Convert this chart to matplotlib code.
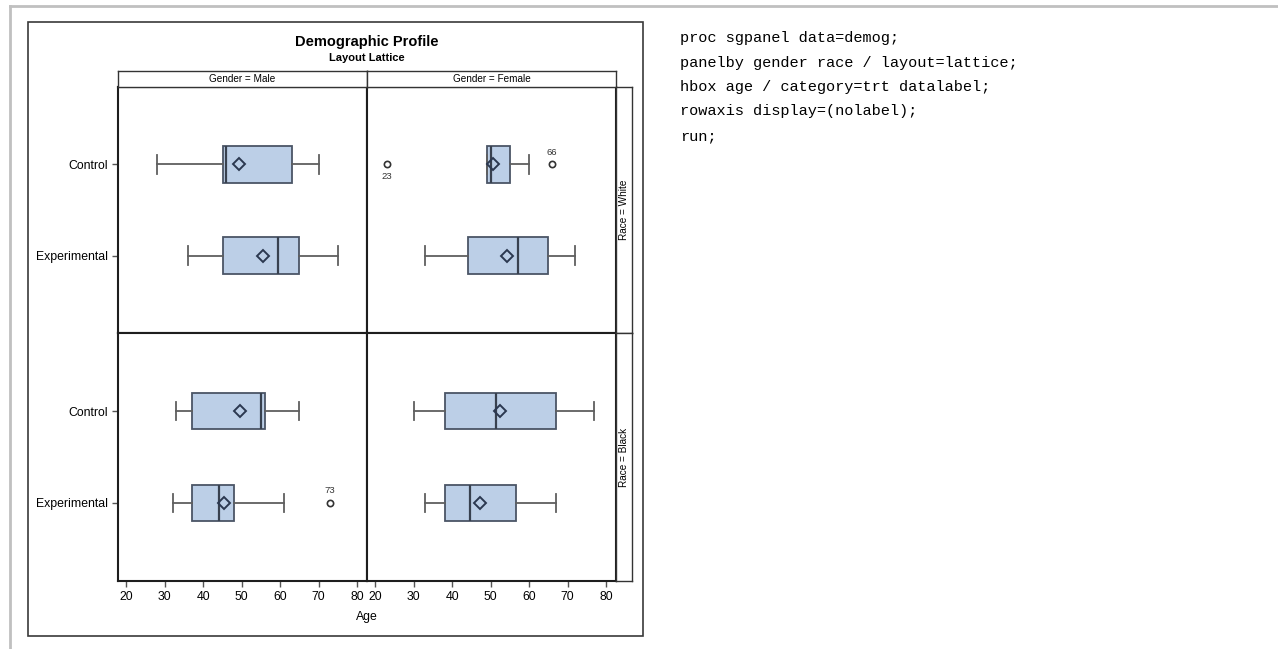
import numpy as np
import matplotlib
matplotlib.use("Agg")
import matplotlib.pyplot as plt
from matplotlib.patches import Rectangle
from matplotlib.lines import Line2D

plt.rcParams['font.family'] = ['Liberation Sans', 'DejaVu Sans']

W, H = 1278, 649

groups = ["Control", "Experimental"]
genders = ["Male", "Female"]
races = ["White", "Black"]

# panel order: (Male,White) (Female,White) (Male,Black) (Female,Black); Control then Experimental
whisker_lo = [28, 36, 49, 33, 33, 32, 30, 33]
q1 = [45, 45, 49, 44, 37, 37, 38, 38]
median = [46, 59.5, 50, 57, 55, 44, 51.5, 44.5]
mean = [49.3, 55.5, 50.6, 54.2, 49.6, 45.3, 52.4, 47.3]
q3 = [63, 65, 55, 65, 56, 48, 67, 56.5]
whisker_hi = [70, 75, 60, 72, 65, 61, 77, 67]

outlier_box = [2, 2, 5]
outlier_age = [23, 66, 73]
outlier_text = ["23", "66", "73"]
outlier_above = [False, True, True]

age_ticks = [20, 30, 40, 50, 60, 70, 80]

box_fill = "#bccfe7"
box_edge = "#4b5566"
whisk_col = "#5f5f5f"
dark = "#1e1e1e"


def rect(x, y, w, h):
    # pixel box (top-left origin) -> figure fraction
    return [x / W, 1 - (y + h) / H, w / W, h / H]


fig = plt.figure(figsize=(W / 100, H / 100), dpi=100)

# page frame lines
fig.add_artist(Line2D([10 / W, 1], [1 - 6 / H, 1 - 6 / H], color="#c0c0c0", lw=2))
fig.add_artist(Line2D([10 / W, 10 / W], [1 - 6 / H, 0], color="#c0c0c0", lw=2))
# chart border
fig.add_artist(Rectangle((28 / W, 1 - 636 / H), 615 / W, 614 / H, fill=False,
                         edgecolor="#3a3a3a", lw=1.2))

fig.text(367 / W, 1 - 42 / H, "Demographic Profile", ha="center", va="center",
         fontsize=10.5, fontweight="bold")
fig.text(367 / W, 1 - 58 / H, "Layout Lattice", ha="center", va="center",
         fontsize=8, fontweight="bold")

panel_px = {(0, 0): (118, 87, 249, 246), (0, 1): (367, 87, 249, 246),
            (1, 0): (118, 333, 249, 248), (1, 1): (367, 333, 249, 248)}

for r in range(2):
    for c in range(2):
        ax = fig.add_axes(rect(*panel_px[(r, c)]))
        stats = []
        for g in range(2):
            i = (r * 2 + c) * 2 + g
            fl = [outlier_age[k] for k in range(len(outlier_box)) if outlier_box[k] == i]
            stats.append(dict(whislo=whisker_lo[i], q1=q1[i], med=median[i],
                              mean=mean[i], q3=q3[i], whishi=whisker_hi[i], fliers=fl))
        ax.bxp(stats, positions=[1, 0], widths=0.4, vert=False, patch_artist=True,
               showmeans=True,
               boxprops=dict(facecolor=box_fill, edgecolor=box_edge, lw=1.3),
               medianprops=dict(color="#38414f", lw=1.6),
               whiskerprops=dict(color=whisk_col, lw=1.3),
               capprops=dict(color=whisk_col, lw=1.3),
               meanprops=dict(marker="D", markersize=6, markerfacecolor="none",
                              markeredgecolor="#2b3850", markeredgewidth=1.4),
               flierprops=dict(marker="o", markersize=4.5, markerfacecolor="none",
                               markeredgecolor="#333333", markeredgewidth=1.2))
        for k in range(len(outlier_box)):
            i = outlier_box[k]
            if i // 2 == r * 2 + c:
                ypos = 1 if i % 2 == 0 else 0
                off = 12 if outlier_above[k] else -12
                ax.annotate(outlier_text[k], (outlier_age[k], ypos), xytext=(0, off),
                            textcoords="offset pixels",
                            ha="center", va="center", fontsize=6.8, color="#333333")
        ax.set_xlim(17.8, 82.6)
        ax.set_ylim(-0.85, 1.85)
        for s in ax.spines.values():
            s.set_color(dark)
            s.set_linewidth(1.5)
        ax.set_yticks([1, 0])
        ax.set_xticks(age_ticks)
        ax.tick_params(length=4, width=1, color="#555555", labelsize=8.8, pad=3)
        if c == 0:
            ax.set_yticklabels(groups)
        else:
            ax.tick_params(axis="y", left=False, labelleft=False)
        if r == 1:
            ax.set_xticklabels([str(t) for t in age_ticks])
        else:
            ax.tick_params(axis="x", bottom=False, labelbottom=False)

# column strips
for c in range(2):
    x, y, w, h = panel_px[(0, c)]
    sax = fig.add_axes(rect(x, 71, w, 16))
    sax.set_xticks([])
    sax.set_yticks([])
    for s in sax.spines.values():
        s.set_color("#333333")
        s.set_linewidth(1)
    sax.text(0.5, 0.5, "Gender = " + genders[c], ha="center", va="center",
             fontsize=7.2, transform=sax.transAxes)

# row strips
for r in range(2):
    x, y, w, h = panel_px[(r, 1)]
    sax = fig.add_axes(rect(616, y, 16, h))
    sax.set_xticks([])
    sax.set_yticks([])
    for s in sax.spines.values():
        s.set_color("#333333")
        s.set_linewidth(1)
    sax.text(0.5, 0.5, "Race = " + races[r], ha="center", va="center", rotation=90,
             fontsize=7.2, transform=sax.transAxes)

fig.text(367 / W, 1 - 617 / H, "Age", ha="center", va="center", fontsize=8.8)

code_lines = ["proc sgpanel data=demog;",
              "panelby gender race / layout=lattice;",
              "hbox age / category=trt datalabel;",
              "rowaxis display=(nolabel);",
              "run;"]
for k, line in enumerate(code_lines):
    fig.text(680 / W, 1 - (38 + 24.5 * k) / H, line, ha="left", va="center",
             fontsize=11, family="Liberation Mono")

fig.savefig("out.png", dpi=100)
